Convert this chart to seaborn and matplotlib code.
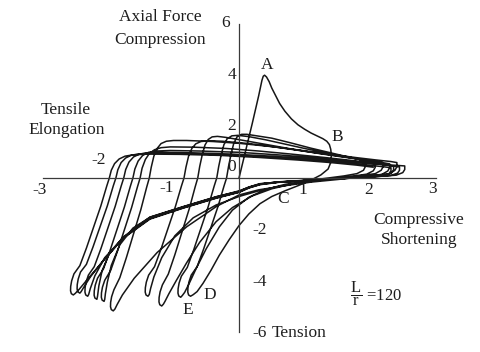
import matplotlib
matplotlib.use("Agg")
import matplotlib.pyplot as plt
import seaborn as sns
import pandas as pd

# ---------------- data ----------------
# first compression: O -> A (buckling) -> B
path_OAB = [(0, 0), (0.1, 1.05), (0.2, 2.1), (0.3, 3.2), (0.35, 3.8), (0.37, 3.96), (0.39, 4.0),
            (0.42, 3.93), (0.46, 3.75), (0.5, 3.5), (0.55, 3.25), (0.62, 2.9), (0.7, 2.6), (0.8, 2.3),
            (0.9, 2.07), (1.0, 1.9), (1.1, 1.75), (1.2, 1.63), (1.28, 1.53), (1.34, 1.43), (1.38, 1.3),
            (1.4, 1.12), (1.41, 0.9)]
# B -> C -> D (first tension)
tens_1 = [(1.40, 0.6), (1.36, 0.35), (1.25, 0.12), (1.1, -0.08), (0.9, -0.3), (0.7, -0.5), (0.5, -0.72),
          (0.32, -1.0), (0.15, -1.4), (0.0, -1.85), (-0.15, -2.4), (-0.3, -3.0), (-0.43, -3.6),
          (-0.55, -4.1), (-0.64, -4.42), (-0.7, -4.54), (-0.74, -4.6)]
comp_1 = [(-0.77, -4.55), (-0.782, -4.44), (-0.78, -4.27), (-0.765, -4.05), (-0.73, -3.78), (-0.64, -3.45),
          (-0.54, -2.76), (-0.43, -1.93), (-0.32, -1.1), (-0.23, -0.32), (-0.19, 0.0), (-0.16, 0.45),
          (-0.12, 0.95), (-0.08, 1.35), (-0.03, 1.6), (0.04, 1.7), (0.12, 1.7), (0.3, 1.63), (0.5, 1.55),
          (0.8, 1.36), (1.1, 1.16), (1.4, 0.98), (1.6, 0.86), (1.76, 0.77), (1.88, 0.69), (1.93, 0.6)]
tens_2 = [(1.93, 0.45), (1.9, 0.3), (1.8, 0.17), (1.6, 0.08), (1.3, -0.02), (1.0, -0.12), (0.7, -0.25),
          (0.4, -0.45), (0.15, -0.75), (-0.1, -1.25), (-0.3, -1.9), (-0.5, -2.75), (-0.65, -3.5),
          (-0.76, -4.1), (-0.83, -4.45), (-0.865, -4.57), (-0.89, -4.64)]
comp_2 = [(-0.92, -4.59), (-0.932, -4.48), (-0.93, -4.31), (-0.915, -4.09), (-0.88, -3.82), (-0.79, -3.48),
          (-0.69, -2.78), (-0.58, -1.95), (-0.47, -1.11), (-0.38, -0.32), (-0.34, 0.0), (-0.31, 0.45),
          (-0.27, 0.93), (-0.23, 1.3), (-0.18, 1.53), (-0.11, 1.64), (-0.02, 1.66), (0.15, 1.61),
          (0.4, 1.49), (0.7, 1.32), (1.0, 1.15), (1.3, 0.99), (1.6, 0.84), (1.85, 0.72), (2.0, 0.64),
          (2.08, 0.58)]
tens_3 = [(2.08, 0.42), (2.05, 0.28), (1.95, 0.15), (1.7, 0.06), (1.4, -0.03), (1.1, -0.12), (0.8, -0.24),
          (0.5, -0.42), (0.2, -0.7), (-0.1, -1.15), (-0.35, -1.7), (-0.6, -2.5), (-0.8, -3.3),
          (-0.96, -4.0), (-1.07, -4.5), (-1.13, -4.8), (-1.155, -4.91), (-1.18, -4.98)]
comp_3 = [(-1.21, -4.93), (-1.222, -4.82), (-1.22, -4.65), (-1.205, -4.43), (-1.17, -4.16), (-1.08, -3.74),
          (-0.98, -2.99), (-0.87, -2.09), (-0.76, -1.2), (-0.67, -0.35), (-0.63, 0.0), (-0.6, 0.45),
          (-0.56, 0.92), (-0.52, 1.28), (-0.47, 1.5), (-0.41, 1.6), (-0.33, 1.62), (-0.2, 1.58),
          (0.05, 1.47), (0.4, 1.31), (0.8, 1.13), (1.2, 0.96), (1.6, 0.81), (1.9, 0.71), (2.1, 0.64),
          (2.2, 0.6)]
tens_4 = [(2.2, 0.44), (2.17, 0.3), (2.08, 0.17), (1.8, 0.07), (1.5, -0.02), (1.2, -0.1), (0.9, -0.2),
          (0.6, -0.33), (0.3, -0.5), (0.0, -0.72), (-0.35, -1.05), (-0.7, -1.55), (-0.98, -2.25),
          (-1.18, -3.1), (-1.3, -3.85), (-1.35, -4.3), (-1.37, -4.53), (-1.39, -4.6)]
comp_4 = [(-1.42, -4.55), (-1.432, -4.44), (-1.43, -4.27), (-1.415, -4.05), (-1.38, -3.78), (-1.29, -3.45),
          (-1.19, -2.76), (-1.08, -1.93), (-0.97, -1.1), (-0.88, -0.32), (-0.84, 0.0), (-0.81, 0.42),
          (-0.77, 0.85), (-0.72, 1.15), (-0.66, 1.33), (-0.58, 1.42), (-0.45, 1.45), (-0.25, 1.43),
          (0.15, 1.34), (0.6, 1.19), (1.0, 1.04), (1.4, 0.9), (1.8, 0.75), (2.1, 0.64), (2.3, 0.55)]
tens_5 = [(2.3, 0.4), (2.27, 0.27), (2.18, 0.14), (1.9, 0.05), (1.5, -0.06), (1.1, -0.16), (0.7, -0.3),
          (0.3, -0.46), (0.0, -0.66), (-0.34, -1.1), (-0.8, -1.9), (-1.25, -2.9), (-1.6, -3.9),
          (-1.78, -4.55), (-1.86, -4.92), (-1.895, -5.1), (-1.92, -5.17)]
comp_5 = [(-1.95, -5.12), (-1.962, -5.01), (-1.96, -4.84), (-1.945, -4.62), (-1.91, -4.35), (-1.82, -3.88),
          (-1.72, -3.1), (-1.61, -2.17), (-1.5, -1.24), (-1.41, -0.36), (-1.37, 0.0), (-1.34, 0.42),
          (-1.3, 0.85), (-1.25, 1.15), (-1.19, 1.34), (-1.11, 1.43), (-1.0, 1.46), (-0.8, 1.46),
          (-0.4, 1.42), (0.0, 1.35), (0.5, 1.22), (1.0, 1.06), (1.4, 0.92), (1.8, 0.79), (2.1, 0.7),
          (2.32, 0.64), (2.41, 0.6)]
tens_6 = [(2.41, 0.44), (2.38, 0.3), (2.3, 0.17), (2.0, 0.08), (1.6, 0.0), (1.2, -0.07), (0.8, -0.13),
          (0.5, -0.18), (0.32, -0.23), (0.15, -0.36), (0.0, -0.5), (-0.34, -0.73), (-0.85, -1.12),
          (-1.36, -1.53), (-1.62, -1.95), (-1.82, -2.6), (-1.95, -3.4), (-2.01, -4.05), (-2.04, -4.5),
          (-2.05, -4.72), (-2.06, -4.8)]
comp_6 = [(-2.09, -4.75), (-2.102, -4.64), (-2.1, -4.47), (-2.085, -4.25), (-2.05, -3.98), (-1.96, -3.6),
          (-1.86, -2.88), (-1.75, -2.02), (-1.64, -1.15), (-1.55, -0.34), (-1.51, 0.0), (-1.48, 0.38),
          (-1.43, 0.72), (-1.37, 0.95), (-1.29, 1.1), (-1.19, 1.18), (-1.05, 1.21), (-0.7, 1.2),
          (-0.2, 1.15), (0.3, 1.05), (0.8, 0.93), (1.3, 0.8), (1.8, 0.66), (2.1, 0.57), (2.28, 0.5),
          (2.36, 0.46)]
tens_7 = [(2.36, 0.32), (2.33, 0.2), (2.24, 0.11), (1.9, 0.04), (1.5, -0.02), (1.1, -0.08), (0.7, -0.14),
          (0.32, -0.22), (0.15, -0.35), (0.0, -0.52), (-0.34, -0.72), (-0.85, -1.11), (-1.36, -1.52),
          (-1.77, -2.3), (-1.98, -2.95), (-2.09, -3.6), (-2.14, -4.2), (-2.16, -4.6), (-2.17, -4.72)]
comp_7 = [(-2.2, -4.67), (-2.212, -4.56), (-2.21, -4.39), (-2.195, -4.17), (-2.16, -3.9), (-2.07, -3.54),
          (-1.97, -2.83), (-1.86, -1.98), (-1.75, -1.13), (-1.66, -0.33), (-1.62, 0.0), (-1.59, 0.35),
          (-1.54, 0.66), (-1.47, 0.88), (-1.38, 1.0), (-1.26, 1.05), (-1.05, 1.07), (-0.6, 1.05),
          (0.0, 1.0), (0.6, 0.9), (1.2, 0.78), (1.7, 0.66), (2.1, 0.55), (2.35, 0.47), (2.45, 0.43)]
tens_8 = [(2.45, 0.3), (2.42, 0.19), (2.32, 0.1), (2.0, 0.03), (1.5, -0.03), (1.0, -0.09), (0.6, -0.15),
          (0.32, -0.24), (0.15, -0.37), (0.0, -0.54), (-0.34, -0.75), (-0.85, -1.14), (-1.36, -1.56),
          (-1.77, -2.32), (-2.05, -3.1), (-2.2, -3.8), (-2.27, -4.3), (-2.295, -4.53), (-2.31, -4.6)]
comp_8 = [(-2.34, -4.55), (-2.352, -4.44), (-2.35, -4.27), (-2.335, -4.05), (-2.3, -3.78), (-2.21, -3.45),
          (-2.11, -2.76), (-2.0, -1.93), (-1.89, -1.1), (-1.8, -0.32), (-1.76, 0.0), (-1.73, 0.33),
          (-1.68, 0.62), (-1.61, 0.82), (-1.52, 0.93), (-1.4, 0.98), (-1.2, 1.0), (-0.7, 0.98),
          (-0.1, 0.93), (0.5, 0.85), (1.1, 0.75), (1.6, 0.65), (2.0, 0.56), (2.35, 0.5), (2.53, 0.47)]
tens_9 = [(2.53, 0.33), (2.5, 0.21), (2.4, 0.11), (2.0, 0.04), (1.5, -0.03), (1.0, -0.1), (0.6, -0.16),
          (0.32, -0.25), (0.15, -0.38), (0.0, -0.55), (-0.34, -0.77), (-0.85, -1.16), (-1.36, -1.58),
          (-1.77, -2.33), (-2.07, -3.2), (-2.27, -3.85), (-2.37, -4.25), (-2.41, -4.42), (-2.43, -4.48)]
comp_9 = [(-2.46, -4.43), (-2.472, -4.32), (-2.47, -4.15), (-2.455, -3.93), (-2.42, -3.66), (-2.33, -3.36),
          (-2.23, -2.69), (-2.12, -1.88), (-2.01, -1.08), (-1.92, -0.31), (-1.88, 0.0), (-1.85, 0.32),
          (-1.8, 0.6), (-1.73, 0.78), (-1.64, 0.89), (-1.52, 0.94), (-1.3, 0.97), (-0.8, 0.95),
          (-0.2, 0.9), (0.4, 0.82), (1.0, 0.72), (1.5, 0.62), (1.9, 0.52), (2.2, 0.44), (2.32, 0.4)]
tens_10 = [(2.32, 0.28), (2.29, 0.17), (2.2, 0.09), (1.9, 0.03), (1.5, -0.03), (1.0, -0.1), (0.6, -0.17),
           (0.32, -0.26), (0.15, -0.39), (0.0, -0.56), (-0.34, -0.78), (-0.85, -1.17), (-1.36, -1.6),
           (-1.77, -2.35), (-2.07, -3.22), (-2.3, -3.9), (-2.44, -4.33), (-2.5, -4.49), (-2.53, -4.55)]
comp_10 = [(-2.56, -4.5), (-2.572, -4.39), (-2.57, -4.22), (-2.555, -4.0), (-2.52, -3.73), (-2.43, -3.41),
           (-2.33, -2.73), (-2.22, -1.91), (-2.11, -1.09), (-2.02, -0.32), (-1.98, 0.0), (-1.95, 0.3),
           (-1.9, 0.56), (-1.83, 0.74), (-1.74, 0.85), (-1.62, 0.9), (-1.4, 0.93), (-0.9, 0.92),
           (-0.3, 0.88), (0.3, 0.8), (0.9, 0.7), (1.4, 0.6), (1.8, 0.5), (2.05, 0.42)]

x_ticks = [-3, -2, -1, 0, 1, 2, 3]
x_tick_labels = ["-3", "-2", "-1", "0", "1", "2", "3"]
y_ticks = [-6, -4, -2, 2, 4, 6]
y_tick_labels = ["-6", "-4", "-2", "2", "4", "6"]
point_labels = ["A", "B", "C", "D", "E"]
point_label_pos = [(0.43, 4.4), (1.5, 1.6), (0.67, -0.8), (-0.44, -4.55), (-0.78, -5.12)]

# ---------------- build the path ----------------
branches = [path_OAB, tens_1, comp_1, tens_2, comp_2, tens_3, comp_3, tens_4, comp_4,
            tens_5, comp_5, tens_6, comp_6, tens_7, comp_7, tens_8, comp_8, tens_9, comp_9,
            tens_10, comp_10]
rows = []
for b in branches:
    for (x, y) in b:
        rows.append((x, y))
df = pd.DataFrame(rows, columns=["disp", "force"])
df["unit"] = 0

sns.set_theme(style="white")
plt.rcParams["font.family"] = ["Liberation Serif", "DejaVu Serif"]
plt.rcParams["mathtext.fontset"] = "custom"
plt.rcParams["mathtext.rm"] = "Liberation Serif"
plt.rcParams["mathtext.it"] = "Liberation Serif:italic"

fig = plt.figure(figsize=(4.8, 3.52), dpi=100)
ax = fig.add_axes([0, 0, 1, 1])
ax.set_facecolor("white")

ink = "#161616"
sns.lineplot(data=df, x="disp", y="force", units="unit", estimator=None, sort=False,
             color=ink, linewidth=1.1, ax=ax, legend=False)
for ln in ax.lines:
    ln.set_solid_joinstyle("round")
    ln.set_solid_capstyle("round")

ax.set_xlim(-3.649, 3.679)
ax.set_ylim(-6.770, 6.926)
ax.set_xlabel("")
ax.set_ylabel("")

for s in ["top", "right"]:
    ax.spines[s].set_visible(False)
ax.spines["left"].set_position(("data", 0))
ax.spines["bottom"].set_position(("data", 0))
ax.spines["left"].set_bounds(-6, 6)
ax.spines["bottom"].set_bounds(-3, 3)
for s in ["left", "bottom"]:
    ax.spines[s].set_color("#3a3a3a")
    ax.spines[s].set_linewidth(0.9)

ax.set_xticks(x_ticks)
ax.set_yticks(y_ticks)
ax.tick_params(axis="x", direction="in", length=6.5, width=0.9, color="#3a3a3a", labelbottom=False)
ax.tick_params(axis="y", direction="in", length=7.2, width=0.9, color="#3a3a3a", labelleft=False)

fs = 12.5
tc = "#1e1e1e"
# x tick labels
x_lab_pos = {-3: (-3.04, -0.47), -2: (-2.14, 0.70), -1: (-1.10, -0.40), 0: (-0.11, 0.43),
             1: (0.98, -0.47), 2: (1.98, -0.47), 3: (2.96, -0.43)}
for t, lab in zip(x_ticks, x_tick_labels):
    px, py = x_lab_pos[t]
    ax.text(px, py, lab, ha="center", va="center", fontsize=fs, color=tc)
# y tick labels
for t, lab in zip(y_ticks, y_tick_labels):
    if t > 0:
        xr = -0.137 if t == 6 else -0.046
        ax.text(xr, t + 0.02, lab, ha="right", va="center", fontsize=fs, color=tc)
    else:
        ax.text(0.20, t - 0.03, lab, ha="left", va="center", fontsize=fs, color=tc)
ax.text(0.50, -6.03, "Tension", ha="left", va="center", fontsize=fs, color=tc)

ax.text(-1.206, 6.265, "Axial Force", ha="center", va="center", fontsize=fs, color=tc)
ax.text(-1.206, 5.37, "Compression", ha="center", va="center", fontsize=fs, color=tc)
ax.text(-2.641, 2.646, "Tensile", ha="center", va="center", fontsize=fs, color=tc)
ax.text(-2.626, 1.868, "Elongation", ha="center", va="center", fontsize=fs, color=tc)
ax.text(2.748, -1.634, "Compressive", ha="center", va="center", fontsize=fs, color=tc)
ax.text(2.748, -2.412, "Shortening", ha="center", va="center", fontsize=fs, color=tc)
ax.text(1.70, -4.52, r"$\dfrac{\mathrm{L}}{\mathrm{r}}$ =120", ha="left", va="center",
        fontsize=fs - 0.5, color=tc)

for lab, (px, py) in zip(point_labels, point_label_pos):
    ax.text(px, py, lab, ha="center", va="center", fontsize=fs, color=tc)

fig.savefig("out.png", dpi=100, facecolor="white")
